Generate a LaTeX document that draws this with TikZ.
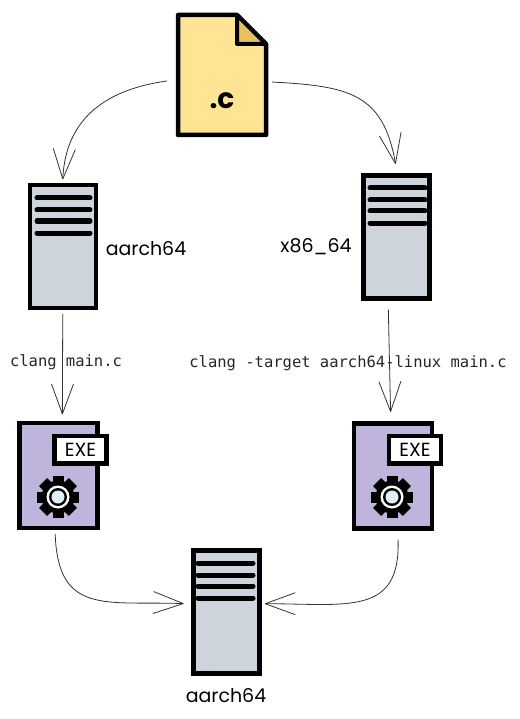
\documentclass[tikz,border=0pt]{standalone}
\usepackage{xcolor}
\usepackage{fontspec}
\usepackage{tikz}
\usetikzlibrary{arrows.meta}
\usetikzlibrary{backgrounds}
\setmainfont{Poppins}
\setmonofont{DejaVu Sans Mono}
\pgfdeclarelayer{edgelayer}
\pgfdeclarelayer{nodelayer}
\pgfsetlayers{background,edgelayer,nodelayer,main}
\pgfdeclarearrow{
	name=sketchvee,
	setup code={\pgfarrowssettipend{0pt}\pgfarrowssetlineend{-1pt}},
	drawing code={
		\pgfsetroundjoin
		\pgfsetdash{}{0pt}
		\pgfpathmoveto{\pgfqpoint{-30pt}{11pt}}
		\pgfpathlineto{\pgfqpoint{0pt}{0pt}}
		\pgfpathlineto{\pgfqpoint{-30pt}{-11pt}}
		\pgfusepathqstroke
	}
}
\definecolor{filefill}{RGB}{255,228,150}
\definecolor{flapfill}{RGB}{232,194,95}
\definecolor{srvfill}{RGB}{206,212,220}
\definecolor{exefill}{RGB}{191,181,220}
\definecolor{hubfill}{RGB}{222,240,246}
\tikzstyle{none}=[inner sep=0mm]
\tikzstyle{srcfile}=[shape=rectangle,inner sep=0pt,outer sep=6pt,minimum width=88pt,minimum height=120pt]
\tikzstyle{filebody}=[draw=black,fill=filefill,line width=4.5pt,line join=round]
\tikzstyle{flap}=[draw=black,fill=flapfill,line width=4pt,line join=round]
\tikzstyle{srv}=[shape=rectangle,draw=black,fill=srvfill,line width=4.5pt,inner sep=0pt,outer sep=6pt,minimum width=66pt,minimum height=123pt]
\tikzstyle{exe}=[shape=rectangle,draw=black,fill=exefill,line width=4.5pt,inner sep=0pt,outer sep=6pt,minimum width=78pt,minimum height=105pt]
\tikzstyle{exetag}=[shape=rectangle,draw=black,fill=white,line width=4.5pt,inner sep=0pt,minimum width=52pt,minimum height=27.5pt,font=\fontsize{19}{19}\selectfont]
\tikzstyle{bar}=[draw=black,line width=5pt,line cap=round]
\tikzstyle{hand}=[inner sep=0pt,font=\fontsize{19}{19}\selectfont]
\tikzstyle{code}=[inner sep=0pt,font=\fontsize{15.5}{15.5}\ttfamily\selectfont,text=black!85]
\tikzstyle{diredge}=[-{sketchvee},draw=black!80,line width=0.8pt]
\newcommand{\srvbars}[3]{%
	\foreach \dy in {0,12,23,35}
		\draw [style=bar] (#1, #3+\dy) -- (#2, #3+\dy);
}
\newcommand{\gear}[2]{%
	\foreach \ang in {0,45,...,315}
		\fill [black, shift={(#1, #2)}, rotate=\ang] (-5.5, -21) rectangle (5.5, 21);
	\fill [black] (#1, #2) circle (16.5);
	\fill [white] (#1, #2) circle (11.5);
	\fill [black] (#1, #2) circle (9);
	\fill [hubfill] (#1, #2) circle (6.5);
}

\begin{document}
\begin{tikzpicture}[x=1pt,y=-1pt]
	\useasboundingbox (0, 0) rectangle (519, 719);
	\begin{pgfonlayer}{nodelayer}
		\draw [style=filebody] (178, 15) -- (237, 15) -- (266, 44) -- (266, 135) -- (178, 135) -- cycle;
		\node [style=srcfile] (src) at (222, 75) {};
		\draw [style=flap] (237, 15) -- (237, 44) -- (266, 44) -- cycle;
		\node [style=hand, font=\fontsize{28}{28}\bfseries\selectfont] (srctext) at (222, 101) {.c};
		\node [style=srv] (armbox) at (62.75, 246.5) {};
		\srvbars{37}{90}{198}
		\node [style=srv] (x86box) at (396.5, 237) {};
		\srvbars{370}{425}{188}
		\node [style=exe] (armexe) at (58.25, 475.5) {};
		\node [style=exetag] (armtag) at (80.5, 449.5) {EXE};
		\gear{58}{497}
		\node [style=exe] (x86exe) at (392.75, 476) {};
		\node [style=exetag] (x86tag) at (415, 449.5) {EXE};
		\gear{392}{497}
		\node [style=srv] (target) at (226.25, 612) {};
		\srvbars{198}{253}{563}
		\node [style=hand] (armtext) at (146, 249) {aarch64};
		\node [style=hand] (x86text) at (316, 247) {x86\_64};
		\node [style=hand] (targettext) at (226, 696) {aarch64};
		\node [style=code] (armcmd) at (66, 362) {clang main.c};
		\node [style=code] (x86cmd) at (348, 363) {clang -target aarch64-linux main.c};
	\end{pgfonlayer}
	\begin{pgfonlayer}{edgelayer}
		\draw [style=diredge, shorten <=5pt, out=188, in=87, looseness=1.1] (src.186) to (armbox.north);
		\draw [style=diredge, shorten >=6pt, out=-3, in=100, looseness=1.3] (src.-8) to (x86box.north);
		\draw [style=diredge, shorten >=3pt] (armbox.south) to (armexe.86);
		\draw [style=diredge, shorten <=5pt, shorten >=6pt] (x86box.263) to (x86exe.92);
		\draw [style=diredge, shorten >=4pt, out=272, in=178, looseness=1.4] (armexe.267) to (target.168);
		\draw [style=diredge, shorten <=5pt, out=272, in=0, looseness=1.4] (x86exe.-85) to (target.12);
	\end{pgfonlayer}
\end{tikzpicture}
\end{document}
